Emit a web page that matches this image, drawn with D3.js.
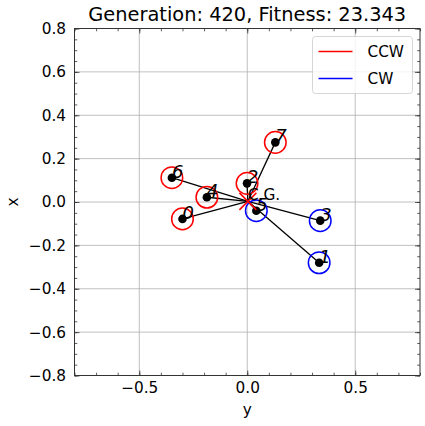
<!DOCTYPE html>
<html lang="en">
<head>
<meta charset="utf-8">
<title>Generation 420</title>
<script src="https://cdn.jsdelivr.net/npm/d3@7"></script>
<style>
  body { margin: 0; background: #fff; }
  text { font-family: "DejaVu Sans", sans-serif; fill: #000; }
</style>
</head>
<body>
<div id="chart"></div>
<script>
// robot ids, horizontal position ("y"), vertical position ("x"), spin direction
var ids = [0, 1, 2, 3, 4, 5, 6, 7];
var posY = [-0.300, 0.333, -0.001, 0.338, -0.187, 0.042, -0.349, 0.130];
var posX = [-0.078, -0.280, 0.086, -0.086, 0.022, -0.040, 0.112, 0.275];
var spin = ["CCW", "CW", "CCW", "CW", "CCW", "CW", "CCW", "CCW"];
// centre of gravity
var cgY = 0.003, cgX = 0.003;
var ringR = 0.05;

var xTicks = [-0.5, 0.0, 0.5];
var yTicks = [-0.8, -0.6, -0.4, -0.2, 0.0, 0.2, 0.4, 0.6, 0.8];
var legendNames = ["CCW", "CW"];
var spinColor = {CCW: "#ff0000", CW: "#0000ff"};

var W = 425, H = 426;
var m = {left: 74.5, right: 5, top: 28.5, bottom: 50.5};
var fs = "15.3px";

var svg = d3.select("#chart").append("svg")
  .attr("width", W).attr("height", H);

var x = d3.scaleLinear().domain([-0.8, 0.8]).range([m.left, W - m.right]);
var y = d3.scaleLinear().domain([-0.8, 0.8]).range([H - m.bottom, m.top]);

var fmt = function(d) { return d3.format(".1f")(d).replace("-", "\u2212"); };

// grid
var grid = svg.append("g").attr("stroke", "#b0b0b0").attr("stroke-width", 0.8);
grid.selectAll(".gx").data(xTicks).enter().append("line")
  .attr("x1", d => x(d)).attr("x2", d => x(d))
  .attr("y1", y(-0.8)).attr("y2", y(0.8));
grid.selectAll(".gy").data(yTicks).enter().append("line")
  .attr("y1", d => y(d)).attr("y2", d => y(d))
  .attr("x1", x(-0.8)).attr("x2", x(0.8));

// axes, ticks pointing inward on all four sides
function styleAx(g) {
  g.select(".domain").remove();
  g.selectAll(".tick line").attr("stroke", "#333").attr("stroke-width", 0.8);
  g.selectAll("text").attr("font-size", fs).attr("font-family", "DejaVu Sans");
}
var xMinor = d3.range(-8, 9).map(d => d / 10);
var yMinor = d3.range(-16, 17).map(d => d / 20);

svg.append("g").attr("transform", "translate(0," + y(-0.8) + ")")
  .call(d3.axisBottom(x).tickValues(xTicks).tickFormat(fmt).tickSizeInner(-5).tickSizeOuter(0).tickPadding(7))
  .call(styleAx);
svg.append("g").attr("transform", "translate(0," + y(-0.8) + ")")
  .call(d3.axisBottom(x).tickValues(xMinor).tickFormat("").tickSizeInner(-2.8).tickSizeOuter(0))
  .call(styleAx);
svg.append("g").attr("transform", "translate(0," + y(0.8) + ")")
  .call(d3.axisTop(x).tickValues(xTicks).tickFormat("").tickSizeInner(-5).tickSizeOuter(0))
  .call(styleAx);
svg.append("g").attr("transform", "translate(0," + y(0.8) + ")")
  .call(d3.axisTop(x).tickValues(xMinor).tickFormat("").tickSizeInner(-2.8).tickSizeOuter(0))
  .call(styleAx);
svg.append("g").attr("transform", "translate(" + x(-0.8) + ",0)")
  .call(d3.axisLeft(y).tickValues(yTicks).tickFormat(fmt).tickSizeInner(-5).tickSizeOuter(0).tickPadding(8.5))
  .call(styleAx);
svg.append("g").attr("transform", "translate(" + x(-0.8) + ",0)")
  .call(d3.axisLeft(y).tickValues(yMinor).tickFormat("").tickSizeInner(-2.8).tickSizeOuter(0))
  .call(styleAx);
svg.append("g").attr("transform", "translate(" + x(0.8) + ",0)")
  .call(d3.axisRight(y).tickValues(yTicks).tickFormat("").tickSizeInner(-5).tickSizeOuter(0))
  .call(styleAx);
svg.append("g").attr("transform", "translate(" + x(0.8) + ",0)")
  .call(d3.axisRight(y).tickValues(yMinor).tickFormat("").tickSizeInner(-2.8).tickSizeOuter(0))
  .call(styleAx);

// frame
svg.append("rect")
  .attr("x", x(-0.8)).attr("y", y(0.8))
  .attr("width", x(0.8) - x(-0.8)).attr("height", y(-0.8) - y(0.8))
  .attr("fill", "none").attr("stroke", "#333").attr("stroke-width", 1);

var plot = svg.append("g");

// arms from the centre of gravity
plot.selectAll(".arm").data(ids).enter().append("line")
  .attr("x1", x(cgY)).attr("y1", y(cgX))
  .attr("x2", i => x(posY[i])).attr("y2", i => y(posX[i]))
  .attr("stroke", "#000").attr("stroke-width", 1.3);

// rotor rings
plot.selectAll(".ring").data(ids).enter().append("circle")
  .attr("cx", i => x(posY[i])).attr("cy", i => y(posX[i]))
  .attr("r", x(ringR) - x(0))
  .attr("fill", "none").attr("stroke", i => spinColor[spin[i]]).attr("stroke-width", 1.5);

// rotor centres
plot.selectAll(".dot").data(ids).enter().append("circle")
  .attr("cx", i => x(posY[i])).attr("cy", i => y(posX[i]))
  .attr("r", 4.3).attr("fill", "#000");

// centre of gravity marker
var cs = 8.5;
plot.append("path")
  .attr("d", "M" + (x(cgY) - cs) + "," + (y(cgX) - cs) + "L" + (x(cgY) + cs) + "," + (y(cgX) + cs) +
             "M" + (x(cgY) - cs) + "," + (y(cgX) + cs) + "L" + (x(cgY) + cs) + "," + (y(cgX) - cs))
  .attr("stroke", "#ff0000").attr("stroke-width", 1.5);

plot.append("text")
  .attr("x", x(cgY)).attr("y", y(cgX) - 1.3)
  .attr("font-size", fs).text("C.G.");

// rotor labels
plot.selectAll(".lbl").data(ids).enter().append("text")
  .attr("x", i => x(posY[i])).attr("y", i => y(posX[i]))
  .attr("font-size", "18px").attr("font-style", "italic")
  .text(i => i);

// title and axis labels
svg.append("text").attr("x", (x(-0.8) + x(0.8)) / 2).attr("y", 20.5)
  .attr("text-anchor", "middle").attr("font-size", "19.4px")
  .text("Generation: 420, Fitness: 23.343");
svg.append("text").attr("x", x(0)).attr("y", 415)
  .attr("text-anchor", "middle").attr("font-size", fs).text("y");
svg.append("text").attr("transform", "translate(18," + y(0) + ") rotate(-90)")
  .attr("text-anchor", "middle").attr("font-size", fs).text("x");

// legend
var lg = svg.append("g").attr("transform", "translate(312.5,36.5)");
lg.append("rect").attr("width", 100).attr("height", 57).attr("rx", 3)
  .attr("fill", "#fff").attr("fill-opacity", 0.8)
  .attr("stroke", "#cccccc").attr("stroke-width", 0.8);
var li = lg.selectAll(".li").data(legendNames).enter().append("g")
  .attr("transform", (d, k) => "translate(0," + (15 + k * 27) + ")");
li.append("line").attr("x1", 6).attr("x2", 40)
  .attr("stroke", d => spinColor[d]).attr("stroke-width", 1.3);
li.append("text").attr("x", 55).attr("y", 5.5)
  .attr("font-size", fs).text(d => d);
</script>
</body>
</html>
